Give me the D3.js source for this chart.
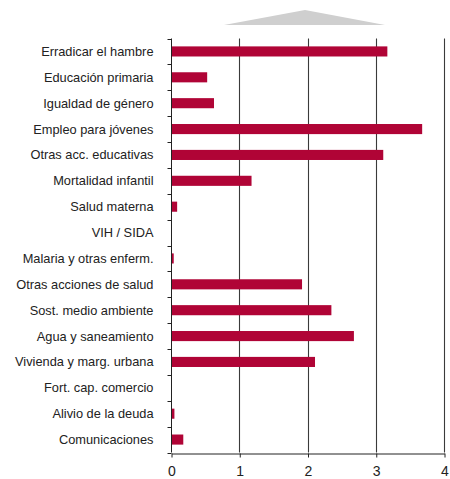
<!DOCTYPE html>
<html>
<head>
<meta charset="utf-8">
<script src="https://cdn.jsdelivr.net/npm/d3@7"></script>
<style>
  html, body { margin: 0; padding: 0; background: #fff; }
  svg { display: block; }
</style>
</head>
<body>
<script>
const categories = [
  "Erradicar el hambre",
  "Educación primaria",
  "Igualdad de género",
  "Empleo para jóvenes",
  "Otras acc. educativas",
  "Mortalidad infantil",
  "Salud materna",
  "VIH / SIDA",
  "Malaria y otras enferm.",
  "Otras acciones de salud",
  "Sost. medio ambiente",
  "Agua y saneamiento",
  "Vivienda y marg. urbana",
  "Fort. cap. comercio",
  "Alivio de la deuda",
  "Comunicaciones"
];
const values = [3.17, 0.53, 0.63, 3.68, 3.11, 1.18, 0.09, 0, 0.04, 1.92, 2.35, 2.68, 2.11, 0, 0.05, 0.18];
const xTicks = [0, 1, 2, 3, 4];

const W = 450, H = 479;
const margin = { left: 171, right: 6, top: 38.5, bottom: 26.5 };

const svg = d3.select("body").append("svg").attr("width", W).attr("height", H);

// decorative grey triangle on top
svg.append("path")
  .attr("d", "M224,25 L305,10 L385,25 Z")
  .attr("fill", "#cfcfcf");

const x = d3.scaleLinear().domain([0, 4]).range([margin.left, 444]);
const y = d3.scaleBand().domain(categories).range([margin.top, H - margin.bottom]).paddingInner(0.61).paddingOuter(0.305);
const yb = d3.scaleBand().domain(categories).range([margin.top, H - margin.bottom]);

// gridlines
svg.append("g").selectAll("line").data(xTicks.slice(1)).join("line")
  .attr("x1", d => Math.round(x(d)) + 0.5).attr("x2", d => Math.round(x(d)) + 0.5)
  .attr("y1", margin.top).attr("y2", H - margin.bottom)
  .attr("stroke", "#3a3a3a").attr("stroke-width", 1.1);

// bars
svg.append("g").selectAll("rect").data(categories).join("rect")
  .attr("x", x(0))
  .attr("y", d => y(d))
  .attr("width", (d, i) => x(values[i]) - x(0))
  .attr("height", y.bandwidth())
  .attr("fill", "#b00436");

// y axis
const yAxisG = svg.append("g").attr("transform", `translate(${Math.round(x(0)) + 0.5},0)`);
yAxisG.append("line").attr("y1", margin.top).attr("y2", H - margin.bottom).attr("stroke", "#222");
const bounds = categories.map(c => yb(c)).concat([H - margin.bottom]);
yAxisG.selectAll("line.tk").data(bounds).join("line").attr("class", "tk")
  .attr("x1", -4).attr("x2", 0).attr("y1", d => Math.round(d) + 0.5).attr("y2", d => Math.round(d) + 0.5)
  .attr("stroke", "#222");
yAxisG.selectAll("text").data(categories).join("text")
  .attr("x", -18).attr("y", d => yb(d) + yb.bandwidth() / 2)
  .attr("dy", "0.35em")
  .attr("text-anchor", "end")
  .attr("font-family", "Liberation Sans, Arial, sans-serif")
  .attr("font-size", "12.8px")
  .attr("fill", "#222")
  .text(d => d);

// x axis
const xAxis = d3.axisBottom(x).tickValues(xTicks).tickSize(4).tickSizeOuter(0).tickFormat(d3.format("d"));
const xg = svg.append("g").attr("transform", `translate(0.5,${Math.round(H - margin.bottom) + 0.5})`).call(xAxis);
xg.select(".domain").attr("stroke", "#222");
xg.selectAll(".tick line").attr("stroke", "#222");
xg.selectAll(".tick text")
  .attr("y", 22.5).attr("dy", 0)
  .attr("font-family", "Liberation Sans, Arial, sans-serif").attr("font-size", "14px").attr("fill", "#222");
</script>
</body>
</html>
